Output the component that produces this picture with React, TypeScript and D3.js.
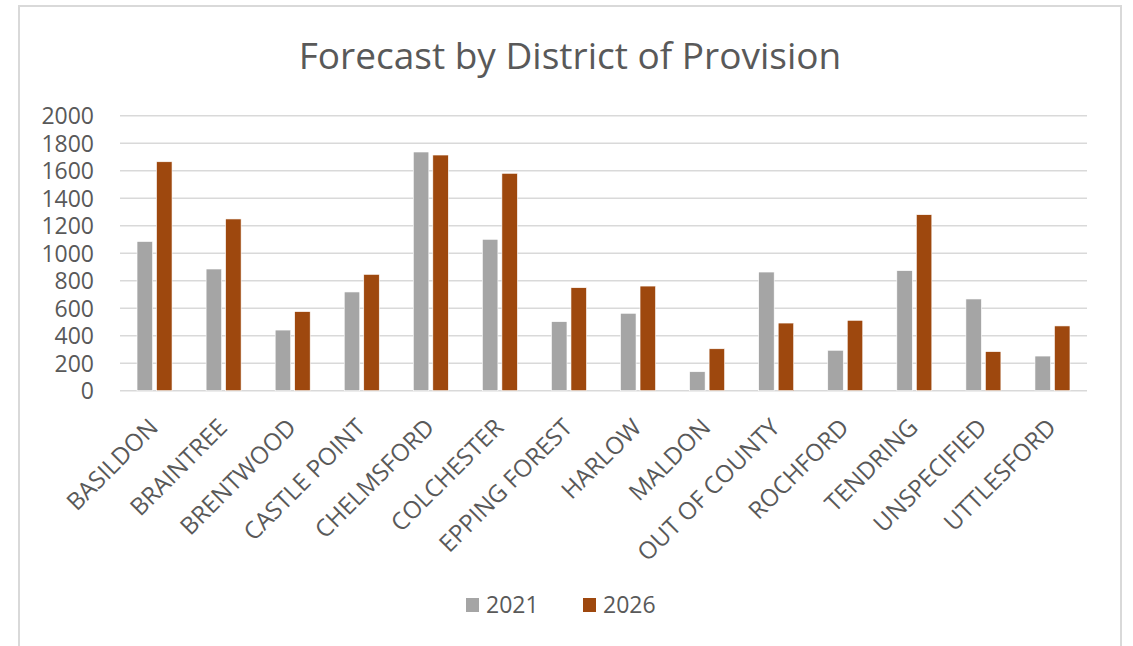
import React from "react";
import * as d3 from "d3";

const categories = [
  "BASILDON", "BRAINTREE", "BRENTWOOD", "CASTLE POINT", "CHELMSFORD", "COLCHESTER",
  "EPPING FOREST", "HARLOW", "MALDON", "OUT OF COUNTY", "ROCHFORD", "TENDRING",
  "UNSPECIFIED", "UTTLESFORD",
];
const values2021 = [1085, 885, 441, 718, 1736, 1101, 502, 563, 138, 863, 294, 873, 667, 252];
const values2026 = [1665, 1249, 575, 846, 1714, 1581, 749, 761, 305, 492, 512, 1280, 284, 471];
const seriesNames = ["2021", "2026"];
const seriesColors = ["#A5A5A5", "#9E480E"];
const yTicks = [0, 200, 400, 600, 800, 1000, 1200, 1400, 1600, 1800, 2000];

export default function App() {
  const W = 1133, H = 646;
  const left = 120, right = 1087, top = 115.7, bottom = 390.7;
  const font = "'Open Sans', sans-serif";
  const textColor = "#595959";

  const x = d3.scaleBand<string>().domain(categories).range([left, right]).paddingInner(0).paddingOuter(0);
  const y = d3.scaleLinear().domain([0, 2000]).range([bottom, top]);
  const barW = 15.5;
  const gap = 4;
  const series = [values2021, values2026];

  return (
    <svg width={W} height={H} style={{ position: "absolute", left: 0, top: 0, background: "#fff" }}>
      <rect x={0} y={0} width={W} height={H} fill="#fff" />
      <rect x={19} y={6} width={1102} height={700} fill="#fff" stroke="#D9D9D9" strokeWidth={2} />
      <text x={570} y={69} textAnchor="middle" fontFamily={font} fontSize={37} fill={textColor}>
        Forecast by District of Provision
      </text>
      {yTicks.map((t) => (
        <g key={t}>
          <line x1={left} x2={right} y1={y(t)} y2={y(t)} stroke="#D9D9D9" strokeWidth={1.5} />
          <text x={94} y={y(t) + 8.3} textAnchor="end" fontFamily={font} fontSize={23} fill={textColor}>
            {t}
          </text>
        </g>
      ))}
      {categories.map((c, i) => {
        const cx = (x(c) as number) + x.bandwidth() / 2;
        return (
          <g key={c}>
            {series.map((s, si) => {
              const bx = si === 0 ? cx - gap / 2 - barW : cx + gap / 2;
              return (
                <rect key={si} x={bx} y={y(s[i])} width={barW} height={bottom - y(s[i])}
                  fill={seriesColors[si]} stroke="#fff" strokeWidth={0.6} />
              );
            })}
            <text transform={`translate(${cx + 5},${429}) rotate(-45)`} textAnchor="end"
              fontFamily={font} fontSize={24} fill={textColor}>
              {c}
            </text>
          </g>
        );
      })}
      {seriesNames.map((n, i) => {
        const lx = [466, 583][i];
        return (
          <g key={n}>
            <rect x={lx} y={598} width={13} height={14} fill={seriesColors[i]} />
            <text x={lx + 20} y={613} fontFamily={font} fontSize={23} fill={textColor}>{n}</text>
          </g>
        );
      })}
    </svg>
  );
}
